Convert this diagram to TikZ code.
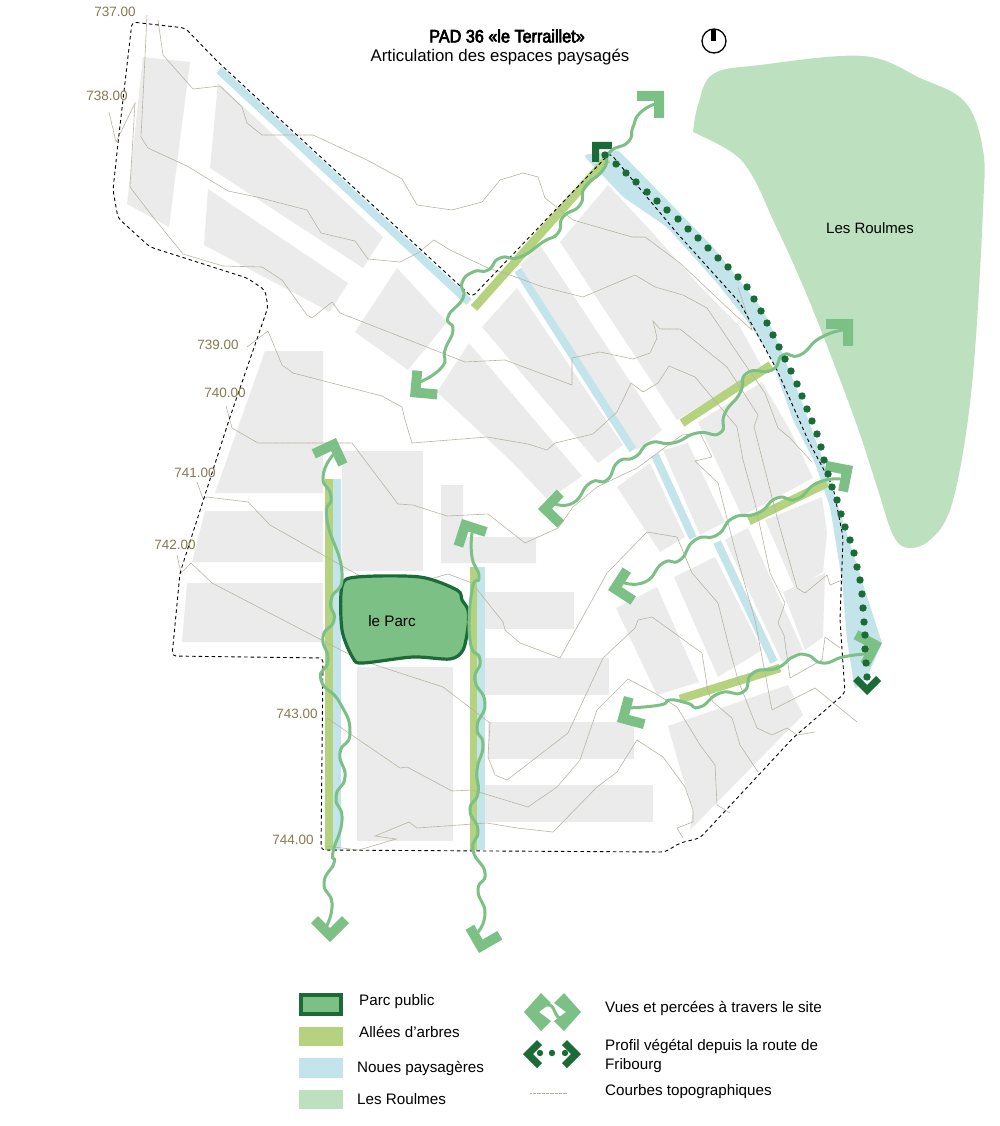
\documentclass[tikz,border=0pt]{standalone}
\usepackage{fontspec}
\setmainfont{Liberation Sans}
\newfontfamily\titlefont[FakeStretch=.9,FakeBold=3.5]{Liberation Sans}
\usepackage{tikz}
\definecolor{blockgray}{RGB}{235, 235, 235}
\definecolor{noueblue}{RGB}{194, 228, 234}
\definecolor{alleegreen}{RGB}{181, 211, 127}
\definecolor{roulmesgreen}{RGB}{189, 224, 191}
\definecolor{viewgreen}{RGB}{124, 192, 134}
\definecolor{parcdark}{RGB}{26, 107, 53}
\definecolor{contourgray}{RGB}{184, 177, 160}
\definecolor{levelbrown}{RGB}{133, 122, 80}
\tikzset{
  block/.style={fill=blockgray},
  noue/.style={draw=noueblue, line width=8pt},
  allee/.style={draw=alleegreen, line width=8.5pt},
  contour/.style={draw=contourgray, line width=.6pt, dash pattern=on 1pt off .3pt},
  view/.style={draw=viewgreen, line width=3pt, line cap=round},
  level/.style={text=levelbrown, font=\fontsize{13.5}{14}\selectfont, inner sep=0pt},
  legendtext/.style={anchor=west, align=left, inner sep=0pt, font=\fontsize{15.2}{19}\selectfont},
  viewhead/.pic={\fill[viewgreen] (0,0) -- (-19,-19) -- (-26,-12) -- (-14,0) -- (-26,12) -- (-19,19) -- cycle;},
  legendhead/.pic={\fill[viewgreen] (0,0) -- (-17,-19) -- (-27,-9) -- (-15,0) -- (-27,9) -- (-17,19) -- cycle;},
  profilhead/.pic={\fill[parcdark] (0,0) -- (-14,-14) -- (-19,-9) -- (-10,0) -- (-19,9) -- (-14,14) -- cycle;}
}

\begin{document}
\begin{tikzpicture}[x=1pt, y=-1pt]
  \useasboundingbox (0,0) rectangle (1000,1126);

  % Les Roulmes
  \fill[roulmesgreen] plot[smooth, tension=.6] coordinates {(693,132) (698,105) (713,74) (760,65) (863,56) (920,78) (965,102) (983,150) (983,210) (975,350) (965,440) (950,510) (930,540) (908,548) (893,535) (878,490) (855,420) (817,320) (793,263) (773,220) (753,177) (733,153) (693,132)} -- cycle;

  % built blocks
  \fill[block] (143,57) -- (190,62) -- (169,227) -- (127,204) -- cycle;
  \fill[block] (218,83) -- (383,237) -- (363,268) -- (210,168) -- cycle;
  \fill[block] (208,189) -- (348,283) -- (330,312) -- (204,245) -- cycle;
  \fill[block] (397,268) -- (447,322) -- (408,370) -- (355,332) -- cycle;
  \fill[block] (469,343) -- (582,476) -- (548,500) -- (510,460) -- (437,392) -- cycle;
  \fill[block] (517,288) -- (623,445) -- (598,463) -- (482,327) -- cycle;
  \fill[block] (520,265) -- (540,245) -- (662,430) -- (637,450) -- cycle;
  \fill[block] (560,242) -- (608,185) -- (650,230) -- (697,283) -- (740,327) -- (762,367) -- (677,420) -- cycle;
  \fill[block] (698,422) -- (762,382) -- (790,430) -- (813,478) -- (742,516) -- cycle;
  \fill[block] (663,450) -- (688,443) -- (725,522) -- (700,535) -- cycle;
  \fill[block] (617,487) -- (650,463) -- (685,537) -- (660,552) -- cycle;
  \fill[block] (674,577) -- (715,557) -- (762,650) -- (718,677) -- cycle;
  \fill[block] (725,540) -- (748,528) -- (803,650) -- (782,662) -- cycle;
  \fill[block] (765,520) -- (822,497) -- (827,533) -- (823,572) -- (795,589) -- cycle;
  \fill[block] (783,592) -- (825,573) -- (823,637) -- (805,650) -- cycle;
  \fill[block] (616,608) -- (657,587) -- (699,682) -- (657,695) -- cycle;
  \fill[block] (668,726) -- (788,685) -- (803,715) -- (690,830) -- (693,810) -- (682,775) -- cycle;
  \fill[block] (441,485) -- (463,485) -- (463,537) -- (536,537) -- (536,563) -- (441,563) -- cycle;
  \fill[block] (485,592) rectangle (574,629);
  \fill[block] (485,658) rectangle (609,695);
  \fill[block] (488,722) rectangle (634,759);
  \fill[block] (485,785) rectangle (653,822);
  \fill[block] (342,451) rectangle (423,571);
  \fill[block] (357,667) rectangle (453,841);
  \fill[block] (265,351) -- (323,351) -- (323,493) -- (215,493) -- cycle;
  \fill[block] (205,511) -- (323,511) -- (323,562) -- (192,562) -- cycle;
  \fill[block] (187,583) -- (323,583) -- (323,642) -- (182,642) -- cycle;

  % noues
  \fill[noueblue, rounded corners=4pt] (583,155) -- (618,150) -- (667,200) -- (713,247) -- (763,310) -- (777,340) -- (800,397) -- (823,460) -- (853,553) -- (882,643) -- (867,677) -- (855,690) -- (847,640) -- (842,580) -- (830,507) -- (815,463) -- (793,420) -- (772,360) -- (752,327) -- (717,283) -- (667,227) -- (623,197) -- (607,180) -- cycle;
  \draw[noue] (219,70) -- (469,302);
  \draw[noue] (518,270) -- (633,450);
  \draw[noue] (655,455) -- (693,538);
  \draw[noue] (717,542) -- (774,662);
  \fill[noueblue] (333,479) rectangle (341,850);
  \fill[noueblue] (477,567) rectangle (485,850);

  % allees
  \draw[allee] (474,308) -- (607,159);
  \draw[allee] (682,423) -- (771,365);
  \draw[allee] (749,521) -- (827,483);
  \draw[allee] (680,699) -- (780,668);
  \fill[alleegreen] (325,479) rectangle (333,850);
  \fill[alleegreen] (470,567) rectangle (477,850);

  % contours
  \draw[contour] (147,15) -- (145,57) -- (141,137) -- (148,148) -- (187,166) -- (228,191) -- (257,197) -- (307,210) -- (321,233) -- (355,241) -- (368,259) -- (400,262) -- (418,253) -- (434,240) -- (450,250) -- (488,268) -- (510,275) -- (543,287) -- (583,297) -- (635,275) -- (655,287) -- (683,295) -- (707,308) -- (740,357) -- (765,393) -- (778,428) -- (790,438) -- (812,462);
  \draw[contour] (158,20) -- (163,55) -- (193,89) -- (220,86) -- (242,107) -- (247,123) -- (262,135) -- (313,135) -- (367,160) -- (402,179) -- (417,205) -- (452,210) -- (482,202) -- (500,180) -- (523,173) -- (538,177) -- (545,198) -- (573,220) -- (632,237) -- (645,237) -- (680,263) -- (733,313) -- (752,330) -- (738,287);
  \draw[contour] (109,112) -- (116,142) -- (135,103) -- (130,187) -- (153,217) -- (183,254) -- (223,266) -- (262,267) -- (282,280) -- (307,315) -- (312,318) -- (332,302) -- (340,313) -- (465,362) -- (505,360) -- (572,385) -- (572,358) -- (600,352) -- (633,359) -- (650,353) -- (657,338) -- (653,321) -- (660,329) -- (680,329) -- (727,367) -- (758,415) -- (754,427) -- (777,517) -- (797,588) -- (805,593) -- (827,575) -- (830,585) -- (842,580);
  \draw[contour] (247,347) -- (268,331) -- (282,365) -- (293,373) -- (382,396) -- (402,407) -- (405,420) -- (412,443) -- (487,437) -- (528,444) -- (547,450) -- (555,443) -- (593,434) -- (617,412) -- (631,383) -- (643,392) -- (658,383) -- (669,366) -- (695,377) -- (737,427) -- (743,460) -- (755,503) -- (770,573) -- (785,603) -- (778,623) -- (784,635) -- (790,678) -- (822,660) -- (825,637) -- (840,648);
  \draw[contour] (226,406) -- (232,428) -- (258,443) -- (352,443) -- (398,504) -- (413,505) -- (447,516) -- (488,514) -- (525,543) -- (558,528) -- (573,507) -- (597,487) -- (637,468) -- (682,435) -- (700,433) -- (712,457) -- (695,461) -- (718,483) -- (735,550) -- (755,620) -- (772,710) -- (815,688) -- (857,722);
  \draw[contour] (197,482) -- (203,499) -- (207,497) -- (248,502) -- (270,525) -- (367,580) -- (400,597) -- (415,583) -- (448,574) -- (472,583) -- (503,622) -- (505,630) -- (520,643) -- (560,658) -- (607,573) -- (647,532) -- (677,537) -- (692,573) -- (718,603) -- (728,643) -- (738,680) -- (757,728) -- (772,735) -- (787,728) -- (797,735) -- (815,732);
  \draw[contour] (177,555) -- (181,573) -- (191,563) -- (212,583) -- (360,660) -- (443,687) -- (490,723) -- (488,757) -- (495,775) -- (507,780) -- (568,733) -- (603,658) -- (635,628) -- (638,620) -- (652,617) -- (702,653) -- (708,692) -- (713,702) -- (732,718) -- (740,745) -- (758,772);
  \draw[contour] (327,718) -- (400,768) -- (407,767) -- (452,791) -- (472,790) -- (528,807) -- (557,787) -- (580,760) -- (597,710) -- (628,679) -- (658,695) -- (677,707) -- (700,745) -- (715,765) -- (717,805) -- (730,813);
  \draw[contour] (325,846) -- (359,850) -- (396,839) -- (375,836) -- (409,822) -- (417,828) -- (487,823) -- (517,828) -- (553,832) -- (597,787) -- (617,772) -- (637,740) -- (663,757) -- (685,787) -- (693,810) -- (693,822) -- (677,828) -- (683,838);

  % site limit
  \draw[black, line width=.9pt, dash pattern=on 3.5pt off 3pt, rounded corners=4pt] (132,22) -- (185,28) -- (218,62) -- (472,297) -- (610,153) -- (677,233) -- (740,303) -- (777,370) -- (808,440) -- (833,487) -- (843,537) -- (840,620) -- (845,693) -- (793,738) -- (700,838) -- (680,843) -- (665,852) -- (321,850) -- (323,658) -- (172,656) -- (180,573) -- (229,420) -- (268,307) -- (265,290) -- (247,278) -- (150,247) -- (118,218) -- (113,190) -- (118,143) -- cycle;

  % le Parc
  \draw[fill=viewgreen, draw=parcdark, line width=3.2pt] plot[smooth cycle, tension=.5] coordinates {(342,586) (357,577) (420,577) (457,590) (462,600) (468,610) (468,627) (463,650) (450,659) (413,657) (363,663) (353,658) (342,630)};
  \node (parc) at (392,621) {\fontsize{15.2}{16}\selectfont le Parc};

  % views
  \pic at (664,91) [rotate=45] {viewhead};
  \pic at (410,397) [rotate=220] {viewhead};
  \pic at (853,319) [rotate=45] {viewhead};
  \pic at (538,509) [rotate=181] {viewhead};
  \pic at (853,466) [rotate=34] {viewhead};
  \pic at (608,590) [rotate=192] {viewhead};
  \pic at (617,722) [rotate=210] {viewhead};
  \pic at (882,643) [rotate=17] {viewhead};
  \pic at (336,438) [rotate=70] {viewhead};
  \pic at (462,519) [rotate=117] {viewhead};
  \pic at (330,942) [rotate=270] {viewhead};
  \pic at (479,953) [rotate=255] {viewhead};
  \pic at (592,142) [rotate=135] {profilhead};
  \pic at (867,695) [rotate=270] {profilhead};

  \draw[view] plot[smooth, tension=1] coordinates {(420,382) (442,367) (445,350) (453,330) (448,317) (463,298) (462,283) (473,272) (488,270) (500,258) (520,257) (543,242) (558,233) (563,217) (580,205) (585,187) (603,170) (610,152) (628,142) (633,127) (640,113) (655,104)};
  \draw[view] plot[smooth, tension=1] coordinates {(553,503) (573,503) (590,483) (607,480) (618,462) (635,457) (650,443) (673,443) (697,433) (720,433) (725,413) (740,393) (747,373) (772,370) (783,355) (800,355) (820,338) (843,330)};
  \draw[view] plot[smooth, tension=1] coordinates {(622,582) (645,582) (663,563) (680,560) (695,540) (717,535) (733,518) (758,513) (777,498) (797,499) (817,483) (840,479)};
  \draw[view] plot[smooth, tension=1] coordinates {(628,708) (660,705) (670,700) (687,703) (700,707) (720,693) (743,692) (753,673) (777,668) (793,657) (807,655) (823,663) (843,657) (865,654)};
  \draw[view] plot[smooth, tension=1] coordinates {(333,455) (323,477) (331,497) (327,520) (342,573) (331,600) (334,620) (323,637) (328,660) (321,680) (340,703) (350,733) (340,753) (345,777) (336,797) (342,820) (333,852) (334,863) (324,883) (332,903) (327,925)};
  \draw[view] plot[smooth, tension=1] coordinates {(472,533) (472,557) (479,577) (472,590) (470,640) (480,660) (475,680) (485,703) (477,727) (483,745) (477,770) (478,793) (470,810) (478,830) (473,850) (485,873) (478,890) (485,913) (478,932)};

  % profil vegetal
  \foreach \dotpos in {(605,155),(616,164),(626,173),(636,182),(647,192),(657,201),(667,210),(678,219),(688,229),(698,238),(708,248),(718,258),(728,267),(738,277),(747,287),(754,299),(761,311),(767,323),(773,335),(779,347),(785,359),(791,371),(797,384),(802,396),(807,409),(812,421),(817,434),(821,447),(824,460),(828,474),(832,487),(837,500),(841,514),(845,527),(850,540),(854,553),(857,567),(860,580),(862,594),(863,608),(864,622),(865,635),(865,649),(866,663),(867,677)}
    \fill[parcdark] \dotpos circle (3.7);

  % levels
  \node[level] (lvla) at (115,12) {737.00};
  \node[level] (lvlb) at (107,96) {738.00};
  \node[level] (lvlc) at (218,345) {739.00};
  \node[level] (lvld) at (225,393) {740.00};
  \node[level] (lvle) at (195,473) {741.00};
  \node[level] (lvlf) at (175,545) {742.00};
  \node[level] (lvlg) at (297,714) {743.00};
  \node[level] (lvlh) at (293,840) {744.00};

  % title
  \node[inner sep=0pt] (title) at (507,36) {\titlefont\fontsize{18}{19}\selectfont PAD 36 «le Terraillet»};
  \node[inner sep=0pt] (subtitle) at (500,57) {\fontsize{16.8}{18}\selectfont Articulation des espaces paysagés};
  \node[inner sep=0pt] (roulmes) at (870,228) {\fontsize{15}{16}\selectfont Les Roulmes};

  % north
  \draw[black, line width=1.3pt] (714,41) circle (12);
  \fill[black] (711,30) rectangle (716,41);

  % legend
  \draw[fill=viewgreen, draw=parcdark, line width=3.6pt] (301,995) rectangle (341,1014);
  \fill[alleegreen] (299,1027) rectangle (343,1046);
  \fill[noueblue] (299,1058) rectangle (343,1078);
  \fill[roulmesgreen] (299,1090) rectangle (343,1109);
  \node[legendtext] (lgparc) at (359,1001.5) {Parc public};
  \node[legendtext] (lgallee) at (359,1032) {Allées d’arbres};
  \node[legendtext] (lgnoue) at (357,1068) {Noues paysagères};
  \node[legendtext] (lgroulmes) at (357,1099) {Les Roulmes};
  \pic at (524,1012) [rotate=180] {legendhead};
  \pic at (581,1012) {legendhead};
  \draw[view] (547,1005) .. controls (556,1003) and (553,1019) .. (563,1019);
  \pic at (523,1054) [rotate=180] {profilhead};
  \pic at (581,1054) {profilhead};
  \foreach \dotx in {540,552,565}
    \fill[parcdark] (\dotx,1053) circle (3.2);
  \draw[contour] (530,1093) -- (567,1093);
  \node[legendtext] (lgvues) at (605,1008) {Vues et percées à travers le site};
  \node[legendtext] (lgprofil) at (605,1056) {Profil végétal depuis la route de\\Fribourg};
  \node[legendtext] (lgcourbes) at (605,1092) {Courbes topographiques};
\end{tikzpicture}
\end{document}
